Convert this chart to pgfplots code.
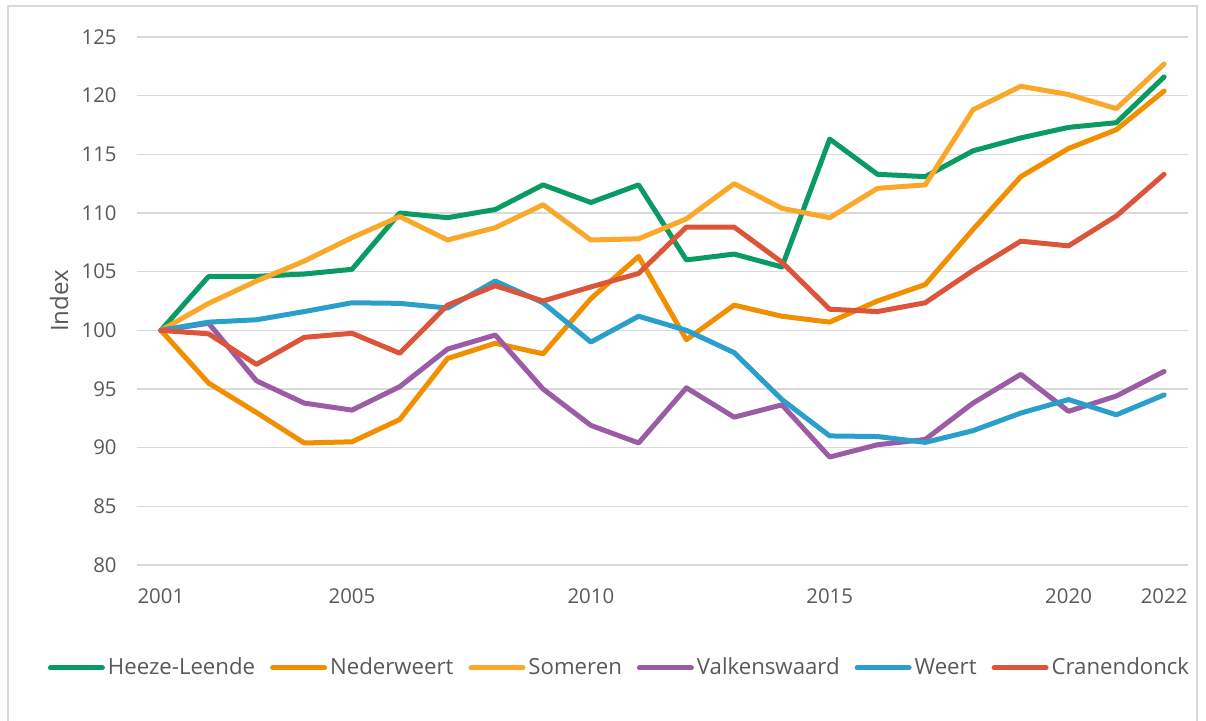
\documentclass[border=0pt]{standalone}
\usepackage{fontspec}
\setmainfont{Open Sans}
\usepackage{pgfplots}
\pgfplotsset{compat=1.18}
\usepackage{pgfplotstable}
\definecolor{cHL}{HTML}{0A9B64}
\definecolor{cNW}{HTML}{F18F00}
\definecolor{cSO}{HTML}{F9A82A}
\definecolor{cVA}{HTML}{9B5CA5}
\definecolor{cWE}{HTML}{2B9FCB}
\definecolor{cCR}{HTML}{DC553B}
\definecolor{gridc}{HTML}{D9D9D9}
\definecolor{txt}{HTML}{595959}
\pgfplotstableread{
year HL NW SO VA WE CR
2001 100 100 100 100 100 100
2002 104.6 95.5 102.3 100.6 100.7 99.7
2003 104.6 93.0 104.2 95.7 100.9 97.1
2004 104.8 90.4 105.9 93.8 101.6 99.4
2005 105.2 90.5 107.9 93.2 102.35 99.75
2006 110.0 92.4 109.7 95.2 102.3 98.05
2007 109.6 97.6 107.7 98.4 101.9 102.15
2008 110.3 98.9 108.75 99.6 104.2 103.8
2009 112.4 98.0 110.7 95.0 102.35 102.5
2010 110.9 102.7 107.7 91.9 99.0 103.7
2011 112.4 106.3 107.8 90.4 101.2 104.85
2012 106.0 99.2 109.5 95.1 100.0 108.8
2013 106.5 102.15 112.5 92.6 98.1 108.8
2014 105.4 101.2 110.4 93.65 94.1 105.8
2015 116.3 100.7 109.6 89.2 91.0 101.8
2016 113.3 102.5 112.1 90.25 90.95 101.6
2017 113.1 103.9 112.4 90.7 90.45 102.35
2018 115.3 108.6 118.8 93.8 91.45 105.1
2019 116.4 113.1 120.8 96.25 92.95 107.6
2020 117.3 115.5 120.1 93.1 94.1 107.2
2021 117.7 117.1 118.9 94.4 92.8 109.75
2022 121.6 120.4 122.7 96.5 94.5 113.3
}\data
\begin{document}
\begin{tikzpicture}
\useasboundingbox (0pt,0pt) rectangle (603pt,360pt);
\draw[gridc, line width=0.75pt] (4pt,-2pt) -- (4pt,357pt) -- (598.5pt,357pt) -- (598.5pt,-2pt);
\begin{axis}[
  at={(68.5pt,77.5pt)}, anchor=south west,
  scale only axis, width=525.5pt, height=264pt,
  xmin=2000.5, xmax=2022.5, ymin=80, ymax=125,
  xtick={2001,2005,2010,2015,2020,2022},
  xticklabels={2001,2005,2010,2015,2020,2022},
  ytick={80,85,...,125},
  axis line style={draw=none},
  major tick length=0pt,
  ymajorgrids, grid style={gridc, line width=0.75pt},
  /pgf/number format/assume math mode=true,
  tick label style={font=\fontsize{10.2}{12}\selectfont, text=txt, inner sep=0pt},
  yticklabel style={anchor=east, xshift=-10pt},
  xticklabel style={anchor=north, yshift=-11.5pt},
  ylabel={Index},
  every axis y label/.style={at={(axis description cs:-0.0742,0.5)}, rotate=90, anchor=center, font=\fontsize{12}{14}\selectfont, text=txt},
  legend columns=6,
  legend style={draw=none, fill=none, at={(axis description cs:0.4596,-0.195)}, anchor=center,
    font=\fontsize{11.1}{13}\selectfont, text=txt,
    /tikz/every even column/.append style={column sep=6pt},
    nodes={inner xsep=1.5pt}},
  legend image code/.code={\draw[#1, line width=2.5pt, line cap=round] (0pt,0pt) -- (26pt,0pt);},
  every axis plot/.append style={line width=2.5pt, line join=round, line cap=round},
]
\addplot[cHL] table[x=year,y=HL]{\data}; \addlegendentry{Heeze-Leende}
\addplot[cNW] table[x=year,y=NW]{\data}; \addlegendentry{Nederweert}
\addplot[cSO] table[x=year,y=SO]{\data}; \addlegendentry{Someren}
\addplot[cVA] table[x=year,y=VA]{\data}; \addlegendentry{Valkenswaard}
\addplot[cWE] table[x=year,y=WE]{\data}; \addlegendentry{Weert}
\addplot[cCR] table[x=year,y=CR]{\data}; \addlegendentry{Cranendonck}
\end{axis}
\end{tikzpicture}
\end{document}
